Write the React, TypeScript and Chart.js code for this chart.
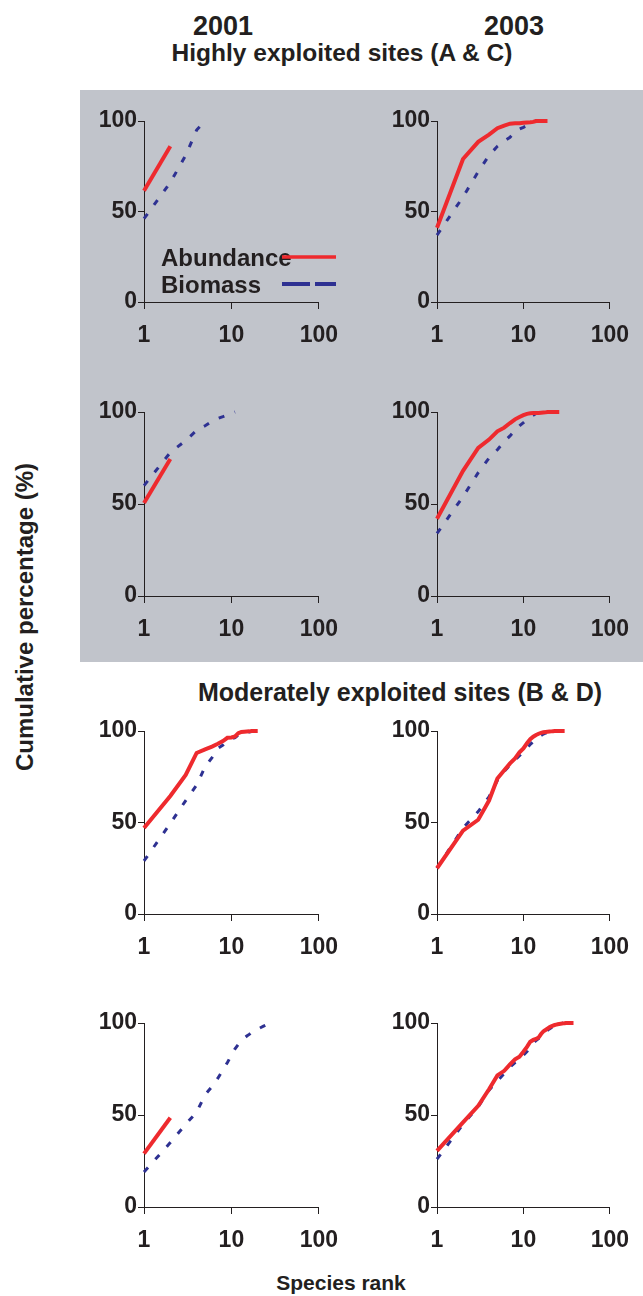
import React, { useEffect, useRef } from "react";
import { Chart, registerables } from "chart.js";

Chart.register(...registerables);

// ---------- data (cumulative %, by species rank 1..N) ----------
// Highly exploited, site A
const a2001Abundance = [61.5, 86];
const a2001Biomass = [46, 66, 81, 95, 100];
const a2003Abundance = [41, 79, 88.5, 92.5, 96, 97.5, 98.5, 98.7, 98.8, 99, 99.2, 99.3, 99.5, 100, 100, 100, 100, 100, 100];
const a2003Biomass = [37, 58, 72, 81, 86, 89, 91, 94, 95.5, 96.5, 97.5, 98.5, 99.3, 100, 100];
// Highly exploited, site C
const c2001Abundance = [50.5, 74.5];
const c2001Biomass = [60, 78, 84.5, 90, 92.5, 95, 96.5, 97.5, 98.5, 99.3, 100];
const c2003Abundance = [42, 68, 80.5, 85, 89.5, 91.5, 94, 96, 97.3, 98.3, 99, 99.3, 99.4, 99.5, 99.5, 99.6, 99.7, 99.8, 100, 100, 100, 100, 100, 100, 100, 100];
const c2003Biomass = [34, 54, 67, 75, 79.5, 84, 87, 90, 92.5, 94.2, 96, 97.3, 98.3, 99.2, 100];
// Moderately exploited, site B
const b2001Abundance = [47, 64.5, 76, 88, 90, 91.5, 93, 94.5, 96.3, 96.5, 97, 98.8, 99.5, 99.6, 99.7, 99.8, 100, 100, 100, 100];
const b2001Biomass = [29, 49.5, 62, 70.5, 80.5, 85.5, 90.5, 92.3, 94.5, 95.6, 96.4, 97.8, 98.7, 99, 99.3, 99.5, 99.7, 99.8, 100, 100];
const b2003Abundance = [25, 45.5, 51.5, 62, 74, 78.5, 82.3, 85, 88.3, 90.5, 93.3, 95.5, 96.9, 97.8, 98.5, 99, 99.3, 99.5, 99.6, 99.7, 99.8, 99.9, 100, 100, 100, 100, 100, 100, 100, 100];
const b2003Biomass = [25, 47, 56, 64, 73, 78, 81.4, 84.2, 86.5, 88.7, 90.5, 92.7, 94.2, 95.6, 96.3, 97.5, 98.3, 98.8, 99.3, 99.5, 99.7, 99.8, 99.9, 100];
// Moderately exploited, site D
const d2001Abundance = [29, 48.5];
const d2001Biomass = [19, 35, 45, 51.5, 61, 65.5, 70, 74.5, 78.5, 82.5, 86, 88.4, 90.2, 91.7, 92.9, 93.8, 94.9, 95.6, 96, 96.7, 97.2, 97.7, 98.2, 98.6, 99, 99.3, 99.5, 99.7, 99.9, 100];
const d2003Abundance = [30.5, 46, 55, 64, 71.5, 74, 77.5, 80.3, 81.7, 84.4, 87, 89.8, 90.8, 91.3, 92.1, 94, 95.4, 96.2, 97, 97.7, 98.2, 98.6, 98.9, 99.1, 99.3, 99.5, 99.6, 99.7, 99.8, 99.9, 100, 100, 100, 100, 100, 100, 100, 100];
const d2003Biomass = [26, 45, 54.5, 63.5, 68.5, 72.5, 76, 78.5, 80.5, 82.5, 84.5, 87, 89, 90.5, 91.5, 92.5, 94, 95, 96, 96.8, 97.4, 97.9, 98.3, 98.7, 99, 99.3, 99.6, 99.8, 100];

const xTickValues = [1, 10, 100];
const yTickValues = [0, 50, 100];
const yearLabels = ["2001", "2003"];
const seriesLabels = ["Abundance", "Biomass"];

// ---------- styling ----------
const FONT = "'Liberation Sans', Arial, Helvetica, sans-serif";
const RED = "#EE2A2E";
const BLUE = "#2E3192";
const INK = "#231F20";
const GRAY = "#C1C4CB";

const Y_AXIS_W = 70;
const X_AXIS_H = 45;
const PAD_TOP = 15;
const PAD_RIGHT = 28;

type PanelProps = {
  abundance: number[];
  biomass: number[];
  axisX: number;
  xEnd: number;
  yTop: number;
  yBottom: number;
};

function Panel({ abundance, biomass, axisX, xEnd, yTop, yBottom }: PanelProps) {
  const ref = useRef<HTMLCanvasElement | null>(null);
  const left = axisX - Y_AXIS_W;
  const top = yTop - PAD_TOP;
  const w = Y_AXIS_W + (xEnd - axisX) + PAD_RIGHT;
  const h = PAD_TOP + (yBottom - yTop) + X_AXIS_H;

  useEffect(() => {
    if (!ref.current) return;
    const toPts = (arr: number[]) => arr.map((v, i) => ({ x: i + 1, y: v }));
    const tickFont = { family: FONT, size: 23, weight: "bold" as const };
    const chart = new Chart(ref.current, {
      type: "line",
      data: {
        datasets: [
          {
            label: seriesLabels[0],
            data: toPts(abundance),
            borderColor: RED,
            borderWidth: 4,
            pointRadius: 0,
            fill: false,
            tension: 0,
            clip: false as any,
          },
          {
            label: seriesLabels[1],
            data: toPts(biomass),
            borderColor: BLUE,
            borderWidth: 3,
            borderDash: [6, 11],
            pointRadius: 0,
            fill: false,
            tension: 0,
            clip: false as any,
          },
        ],
      },
      options: {
        animation: false,
        responsive: true,
        maintainAspectRatio: false,
        events: [],
        layout: { padding: { top: PAD_TOP, right: PAD_RIGHT, left: 0, bottom: 0 } },
        plugins: { legend: { display: false }, tooltip: { enabled: false } },
        scales: {
          x: {
            type: "logarithmic",
            min: 1,
            max: 100,
            afterBuildTicks: (s: any) => {
              s.ticks = xTickValues.map((v) => ({ value: v }));
            },
            afterFit: (s: any) => {
              s.height = X_AXIS_H;
            },
            ticks: {
              callback: (v: any) => String(v),
              font: tickFont,
              color: INK,
              padding: 13,
              maxRotation: 0,
              autoSkip: false,
            },
            grid: { drawOnChartArea: false, tickLength: 7, color: INK, lineWidth: 1 },
            border: { color: INK, width: 1 },
          },
          y: {
            type: "linear",
            min: 0,
            max: 100,
            afterBuildTicks: (s: any) => {
              s.ticks = yTickValues.map((v) => ({ value: v }));
            },
            afterFit: (s: any) => {
              s.width = Y_AXIS_W;
            },
            ticks: {
              callback: (v: any) => String(v),
              font: tickFont,
              color: INK,
              padding: 1,
              autoSkip: false,
            },
            grid: { drawOnChartArea: false, tickLength: 6, color: INK, lineWidth: 1 },
            border: { color: INK, width: 1 },
          },
        },
      } as any,
    });
    return () => chart.destroy();
  }, []);

  return (
    <div style={{ position: "absolute", left, top, width: w, height: h }}>
      <canvas ref={ref} />
    </div>
  );
}

function Label({
  text,
  cx,
  top,
  size,
}: {
  text: string;
  cx: number;
  top: number;
  size: number;
}) {
  return (
    <div
      style={{
        position: "absolute",
        left: cx - 250,
        top,
        width: 500,
        textAlign: "center",
        fontFamily: FONT,
        fontWeight: "bold",
        fontSize: size,
        lineHeight: `${size}px`,
        color: INK,
        whiteSpace: "nowrap",
      }}
    >
      {text}
    </div>
  );
}

const LEFT = { axisX: 144, xEnd: 323 };
const RIGHT = { axisX: 437, xEnd: 614 };
const ROWS = [
  { yTop: 121, yBottom: 302 },
  { yTop: 412, yBottom: 596 },
  { yTop: 731, yBottom: 914 },
  { yTop: 1023, yBottom: 1207 },
];

export default function App() {
  return (
    <div
      style={{
        position: "absolute",
        left: 0,
        top: 0,
        width: 643,
        height: 1296,
        background: "#ffffff",
        overflow: "hidden",
      }}
    >
      <div style={{ position: "absolute", left: 80, top: 90, width: 563, height: 572, background: GRAY }} />

      <Label text={yearLabels[0]} cx={223} top={13} size={27} />
      <Label text={yearLabels[1]} cx={514} top={13} size={27} />
      <Label text="Highly exploited sites (A & C)" cx={342} top={41} size={24.5} />
      <Label text="Moderately exploited sites (B & D)" cx={400} top={680} size={25} />
      <Label text="Species rank" cx={341} top={1272} size={21} />

      <div
        style={{
          position: "absolute",
          left: 24.7 - 250,
          top: 617 - 12,
          width: 500,
          height: 24,
          lineHeight: "24px",
          textAlign: "center",
          fontFamily: FONT,
          fontWeight: "bold",
          fontSize: 24,
          color: INK,
          whiteSpace: "nowrap",
          transform: "rotate(-90deg)",
          transformOrigin: "50% 50%",
        }}
      >
        Cumulative percentage (%)
      </div>

      <Panel abundance={a2001Abundance} biomass={a2001Biomass} {...LEFT} {...ROWS[0]} />
      <Panel abundance={a2003Abundance} biomass={a2003Biomass} {...RIGHT} {...ROWS[0]} />
      <Panel abundance={c2001Abundance} biomass={c2001Biomass} {...LEFT} {...ROWS[1]} />
      <Panel abundance={c2003Abundance} biomass={c2003Biomass} {...RIGHT} {...ROWS[1]} />
      <Panel abundance={b2001Abundance} biomass={b2001Biomass} {...LEFT} {...ROWS[2]} />
      <Panel abundance={b2003Abundance} biomass={b2003Biomass} {...RIGHT} {...ROWS[2]} />
      <Panel abundance={d2001Abundance} biomass={d2001Biomass} {...LEFT} {...ROWS[3]} />
      <Panel abundance={d2003Abundance} biomass={d2003Biomass} {...RIGHT} {...ROWS[3]} />

      {/* legend inside the first panel */}
      <div
        style={{
          position: "absolute",
          left: 161,
          top: 246,
          fontFamily: FONT,
          fontWeight: "bold",
          fontSize: 24,
          lineHeight: "24px",
          color: INK,
          whiteSpace: "nowrap",
        }}
      >
        {seriesLabels[0]}
      </div>
      <div
        style={{
          position: "absolute",
          left: 161,
          top: 273,
          fontFamily: FONT,
          fontWeight: "bold",
          fontSize: 24,
          lineHeight: "24px",
          color: INK,
          whiteSpace: "nowrap",
        }}
      >
        {seriesLabels[1]}
      </div>
      <svg style={{ position: "absolute", left: 280, top: 250, overflow: "visible" }} width={60} height={40}>
        <line x1={2} y1={7} x2={56} y2={7} stroke={RED} strokeWidth={3.5} />
        <line x1={2} y1={34} x2={56} y2={34} stroke={BLUE} strokeWidth={4} strokeDasharray="28 5" />
      </svg>
    </div>
  );
}
